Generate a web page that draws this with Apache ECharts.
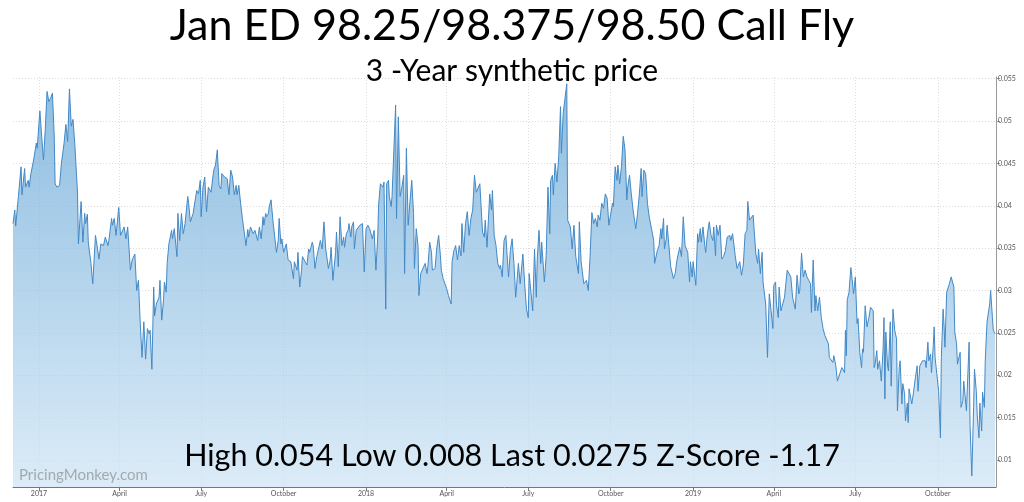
<!DOCTYPE html>
<html>
<head>
<meta charset="utf-8">
<script src="https://cdn.jsdelivr.net/npm/echarts@6/dist/echarts.min.js"></script>
<style>
  html, body { margin: 0; padding: 0; background: #fff; }
  #chart { width: 1024px; height: 502px; }
</style>
</head>
<body>
<div id="chart"></div>
<script>
// ---- Data ----
const titleText = 'Jan ED 98.25/98.375/98.50 Call Fly';
const subtitleText = '3 -Year synthetic price';
const statsText = 'High 0.054 Low 0.008 Last 0.0275 Z-Score -1.17';
const watermarkText = 'PricingMonkey.com';

// trading days, counted from 2017-01-01
const dayOffsets = [
-29,-27,-26,-23,-20,-19,-18,-16,-15,-12,-11,-9,-6,-3,-2,1,3,5,7,9,11,13,15,17,18,20,23,25,28,30,32,34,36,38,40,41,43,44,47,49,51,52,54,55,58,60,63,64,67,69,72,74,77,78,81,82,84,86,89,91,93,95,97,99,102,104,107,109,111,113,115,117,119,121,123,124,126,128,129,131,134,135,137,139,140,142,143,145,148,149,151,154,155,157,159,161,163,166,167,169,172,174,176,178,180,181,183,185,187,189,192,195,197,199,201,203,204,207,208,210,212,214,216,218,220,221,223,225,227,229,231,233,234,236,
239,241,244,246,248,250,251,253,254,256,257,259,261,263,265,267,268,270,271,273,276,278,281,284,285,288,289,291,293,294,297,299,301,302,305,306,308,310,312,314,316,318,320,321,323,325,326,328,331,332,334,336,338,340,341,343,345,346,348,349,351,352,354,356,358,361,363,365,367,369,372,374,376,378,379,381,384,385,387,388,390,391,393,394,395,398,399,401,403,405,407,408,410,412,414,416,418,419,421,423,424,426,428,431,433,434,436,438,439,442,444,446,448,449,451,453,455,457,460,461,463,465,467,469,471,472,474,476,478,480,482,484,486,488,490,492,494,495,497,498,500,502,503,505,506,508,510,512,514,
515,517,519,521,524,526,528,530,532,535,537,538,540,542,544,546,547,549,551,553,555,556,558,560,561,564,566,568,570,571,573,574,576,578,580,582,583,585,587,589,590,593,595,597,599,602,603,605,606,608,611,613,615,617,619,621,623,624,626,628,630,632,634,636,637,640,641,643,645,646,648,650,652,654,656,657,659,661,663,666,668,670,672,673,675,677,679,681,683,686,687,689,690,692,694,695,697,698,700,701,703,705,707,708,710,712,715,717,719,721,724,726,727,729,730,732,733,735,736,738,739,741,743,744,746,748,750,752,753,755,756,758,760,762,764,766,768,771,772,774,777,779,780,782,784,786,788,790,791,793,
794,797,798,800,802,803,805,807,808,810,811,813,815,817,819,820,822,823,825,826,828,830,832,835,837,839,841,844,846,848,849,851,853,855,857,859,861,862,864,866,867,869,871,873,875,877,879,881,882,884,886,887,889,891,893,896,897,899,900,901,902,904,906,907,909,911,913,914,916,918,919,920,922,924,926,927,928,931,932,933,935,936,938,940,942,943,944,945,947,948,950,951,953,955,957,958,960,961,963,964,966,967,969,970,971,974,976,978,980,981,983,986,987,989,990,992,993,995,996,998,999,1000,1002,1004,1006,1007,1009,1010,1011,1013,1015,1016,1018,1021,1022,1024,1025,1027,1028,1029,1031,1032,1034,1035,1038,1039,1041,1043,1044,1046,1047,1049,1050,1052,1053,1055,1056,1058,1059,1061,1062,1064,1065,1067
];

const prices = [
0.0379,0.0395,0.0376,0.0411,0.0446,0.0413,0.0415,0.0444,0.0422,0.043,0.0422,0.0438,0.0454,0.0474,0.0468,0.0512,0.0482,0.0454,0.049,0.0535,0.0523,0.0527,0.0533,0.0482,0.0426,0.0422,0.0424,0.045,0.0474,0.0496,0.0476,0.0538,0.0494,0.0502,0.0472,0.0472,0.0415,0.0355,0.0405,0.0357,0.0391,0.0379,0.039,0.0357,0.0332,0.0308,0.0365,0.0359,0.0337,0.0355,0.0353,0.0363,0.0353,0.0359,0.0385,0.0377,0.0385,0.0365,0.0398,0.0365,0.0365,0.0375,0.0361,0.0375,0.0324,0.0336,0.0343,0.03,0.0312,0.0261,0.0221,0.0263,0.0219,0.0255,0.0249,0.0253,0.0207,0.0304,0.027,0.0284,0.0292,0.0312,0.0265,0.0289,0.031,0.0298,0.0332,0.0355,0.0371,0.0361,0.0373,0.034,0.0391,0.0359,0.0391,0.0367,0.0379,0.0411,0.0403,0.0381,0.0391,0.0393,0.0418,0.0414,0.043,0.0387,0.0422,0.0434,0.0393,0.0422,0.0416,0.0442,0.0448,0.0466,0.0424,0.042,0.0438,0.0434,0.0436,0.0432,0.0413,0.0442,0.0434,0.0413,0.0424,0.0413,0.0424,0.0403,0.0385,0.0383,0.0353,0.0372,0.0363,0.0375,
0.0367,0.0371,0.0359,0.0375,0.0361,0.0387,0.0377,0.0391,0.0387,0.0391,0.0399,0.0407,0.0383,0.0385,0.0345,0.0359,0.0385,0.0355,0.0361,0.0345,0.0355,0.0336,0.0334,0.0314,0.0334,0.0324,0.0345,0.0304,0.0324,0.034,0.0334,0.033,0.0349,0.0345,0.0357,0.0353,0.0326,0.034,0.034,0.0359,0.0349,0.0381,0.0349,0.0351,0.0326,0.0336,0.0351,0.0312,0.0345,0.0369,0.0328,0.0387,0.0353,0.0363,0.0351,0.0367,0.0371,0.0379,0.0363,0.0375,0.0381,0.0349,0.0371,0.0373,0.0377,0.0379,0.0322,0.0373,0.0377,0.0373,0.0361,0.0371,0.0324,0.0363,0.0401,0.0426,0.0422,0.0428,0.0278,0.0426,0.043,0.0411,0.0399,0.0411,0.0409,0.0519,0.0385,0.0505,0.0411,0.0422,0.0436,0.032,0.0468,0.0377,0.0405,0.043,0.0391,0.0326,0.0373,0.0353,0.0294,0.032,0.0322,0.0332,0.032,0.0328,0.0357,0.0345,0.0324,0.0326,0.0351,0.0365,0.0341,0.0324,0.0314,0.0312,0.0302,0.0294,0.0284,0.0334,0.0347,0.0353,0.0336,0.0353,0.0341,0.0379,0.0345,0.0379,0.0393,0.0365,0.0385,0.0395,0.0436,0.0416,0.0416,0.0426,0.0426,0.0369,0.0363,0.0383,0.0351,0.0349,0.0414,0.0395,0.0418,0.0365,0.0353,0.0332,0.0326,
0.033,0.0316,0.0359,0.0365,0.0316,0.0347,0.0361,0.0332,0.0292,0.0332,0.0308,0.0308,0.0343,0.0308,0.0278,0.0268,0.032,0.0298,0.0276,0.0349,0.0292,0.0336,0.0371,0.0332,0.0357,0.031,0.0341,0.0422,0.0367,0.043,0.0436,0.0413,0.045,0.0428,0.0458,0.0517,0.0462,0.0509,0.0509,0.0544,0.0383,0.0375,0.0349,0.0377,0.034,0.032,0.0381,0.0334,0.0336,0.0308,0.0312,0.03,0.034,0.0392,0.0379,0.0385,0.0375,0.0389,0.0383,0.0403,0.0397,0.0414,0.0409,0.0377,0.0377,0.0403,0.0399,0.0446,0.043,0.0448,0.0426,0.0446,0.0482,0.0466,0.0407,0.0422,0.0436,0.0414,0.0395,0.0373,0.0391,0.0414,0.0444,0.0411,0.0442,0.0438,0.0403,0.0387,0.0385,0.0359,0.0332,0.0332,0.0347,0.0353,0.0373,0.0361,0.0385,0.0349,0.0361,0.0377,0.0377,0.0328,0.0328,0.0314,0.032,0.0336,0.0351,0.034,0.0387,0.0353,0.0345,0.031,0.0334,0.0316,0.0334,0.0336,0.0306,0.0367,0.0357,0.0373,0.0357,0.0375,0.0353,0.0345,0.0367,0.0381,0.0365,0.0359,0.0375,0.0341,0.0377,0.0365,0.0377,0.0337,0.034,0.0347,0.0363,0.0365,0.0359,0.0367,0.0341,0.0326,0.0324,0.0334,0.0318,0.033,0.0367,0.0371,0.0405,0.0383,
0.0385,0.0389,0.0373,0.0343,0.0332,0.0349,0.032,0.0345,0.031,0.0312,0.0284,0.0221,0.0296,0.0276,0.0255,0.0306,0.031,0.0284,0.0268,0.0304,0.0276,0.0284,0.0292,0.0324,0.0326,0.0316,0.0292,0.0278,0.0318,0.0296,0.03,0.0344,0.0316,0.0324,0.0316,0.0312,0.0308,0.0274,0.0336,0.0276,0.0294,0.0276,0.0292,0.0268,0.0255,0.0247,0.0249,0.0237,0.0221,0.0223,0.0215,0.0223,0.0213,0.0193,0.0194,0.0209,0.0211,0.0203,0.0253,0.0223,0.0289,0.0298,0.0327,0.0318,0.0296,0.0316,0.0261,0.0267,0.0227,0.0209,0.0231,0.0227,0.0282,0.0257,0.0267,0.0265,0.028,0.0276,0.0209,0.0213,0.0229,0.0207,0.0217,0.0193,0.0231,0.0268,0.0172,0.0251,0.0211,0.0205,0.0263,0.0187,0.0278,0.0253,0.0243,0.0158,0.0209,0.0217,0.0166,0.019,0.0178,0.0146,0.0167,0.0144,0.0184,0.0166,0.018,0.0197,0.0211,0.0181,0.0211,0.0217,0.0219,0.0217,0.0209,0.0239,0.0217,0.0225,0.0203,0.0235,0.0257,0.0221,0.0201,0.0181,0.0126,0.0221,0.0278,0.0259,0.0233,0.0298,0.0296,0.0308,0.0316,0.0304,0.0251,0.0237,0.0213,0.0211,0.0227,0.0162,0.017,0.0193,0.0193,0.0158,0.0239,0.0142,0.0081,0.0162,0.0207,0.0181,0.0154,0.0126,0.0167,0.0134,0.018,0.0162,0.0217,0.0263,0.0261,0.0284,0.03,0.0268,0.0253,0.0249
];

const xTickDates = ['2017-01-01','2017-04-01','2017-07-01','2017-10-01','2018-01-01','2018-04-01','2018-07-01','2018-10-01','2019-01-01','2019-04-01','2019-07-01','2019-10-01'];
const xTickLabels = ['2017','April','July','October','2018','April','July','October','2019','April','July','October'];
const yTickValues = [0.01, 0.015, 0.02, 0.025, 0.03, 0.035, 0.04, 0.045, 0.05, 0.055];

// ---- Build ----
if (dayOffsets.length !== prices.length) {
  throw new Error('length mismatch ' + dayOffsets.length + ' vs ' + prices.length);
}
const DAY = 86400000;
const BASE = Date.UTC(2017, 0, 1);
const toDay = s => { const p = s.split('-').map(Number); return Math.round((Date.UTC(p[0], p[1] - 1, p[2]) - BASE) / DAY); };
const seriesData = dayOffsets.map((d, i) => [d, prices[i]]);
const xTickDays = xTickDates.map(toDay);
const xLabelMap = {};
xTickDays.forEach((t, i) => { xLabelMap[t] = xTickLabels[i]; });

const chart = echarts.init(document.getElementById('chart'), null, { renderer: 'canvas' });
const FONT = 'Lato, "Noto Sans", sans-serif';

chart.setOption({
  animation: false,
  backgroundColor: '#ffffff',
  title: [
    { text: titleText, left: 'center', top: 5, padding: 0,
      textStyle: { fontFamily: FONT, fontSize: 43, fontWeight: 'normal', color: '#000' } },
    { text: subtitleText, left: 'center', top: 56, padding: 0,
      textStyle: { fontFamily: FONT, fontSize: 30, fontWeight: 'normal', color: '#000' } },
    { text: statsText, left: 'center', top: 441, padding: 0,
      textStyle: { fontFamily: FONT, fontSize: 30.5, fontWeight: 'normal', color: '#000' } },
    { text: watermarkText, left: 19, top: 468, padding: 0,
      textStyle: { fontFamily: FONT, fontSize: 15, fontWeight: 'normal', color: '#a3a9b0' } }
  ],
  grid: { left: 13, right: 28, top: 77, bottom: 15, containLabel: false },
  xAxis: {
    type: 'value',
    min: -29,
    max: 1068,
    axisLine: { show: true, onZero: false, lineStyle: { color: '#777', width: 1 } },
    axisTick: { show: true, length: 4, lineStyle: { color: '#777' }, customValues: xTickDays },
    axisLabel: {
      customValues: xTickDays,
      fontFamily: FONT, fontSize: 7, color: '#555', margin: 3,
      formatter: v => xLabelMap[Math.round(v)] || ''
    },
    splitLine: { show: true, lineStyle: { color: '#dcdcdc', type: [1, 2], width: 1 } }
  },
  yAxis: {
    type: 'value',
    position: 'right',
    min: 0.0068,
    max: 0.0552,
    axisLine: { show: true, onZero: false, lineStyle: { color: '#999', width: 1 } },
    axisTick: { show: true, length: 4, lineStyle: { color: '#999' }, customValues: yTickValues },
    axisLabel: {
      customValues: yTickValues,
      fontFamily: FONT, fontSize: 7, color: '#555', margin: 2,
      formatter: v => String(Number(v.toFixed(3)))
    },
    splitLine: { show: true, lineStyle: { color: '#dcdcdc', type: [1, 2], width: 1 } }
  },
  series: [{
    type: 'line',
    data: seriesData,
    showSymbol: false,
    symbol: 'none',
    sampling: 'none',
    lineStyle: { color: '#4389c6', width: 1 },
    areaStyle: {
      origin: 'start',
      color: new echarts.graphic.LinearGradient(0, 0, 0, 1, [
        { offset: 0, color: '#5ea2d5' },
        { offset: 1, color: '#cde3f4' }
      ])
    },
    z: 2
  }]
});
</script>
</body>
</html>
